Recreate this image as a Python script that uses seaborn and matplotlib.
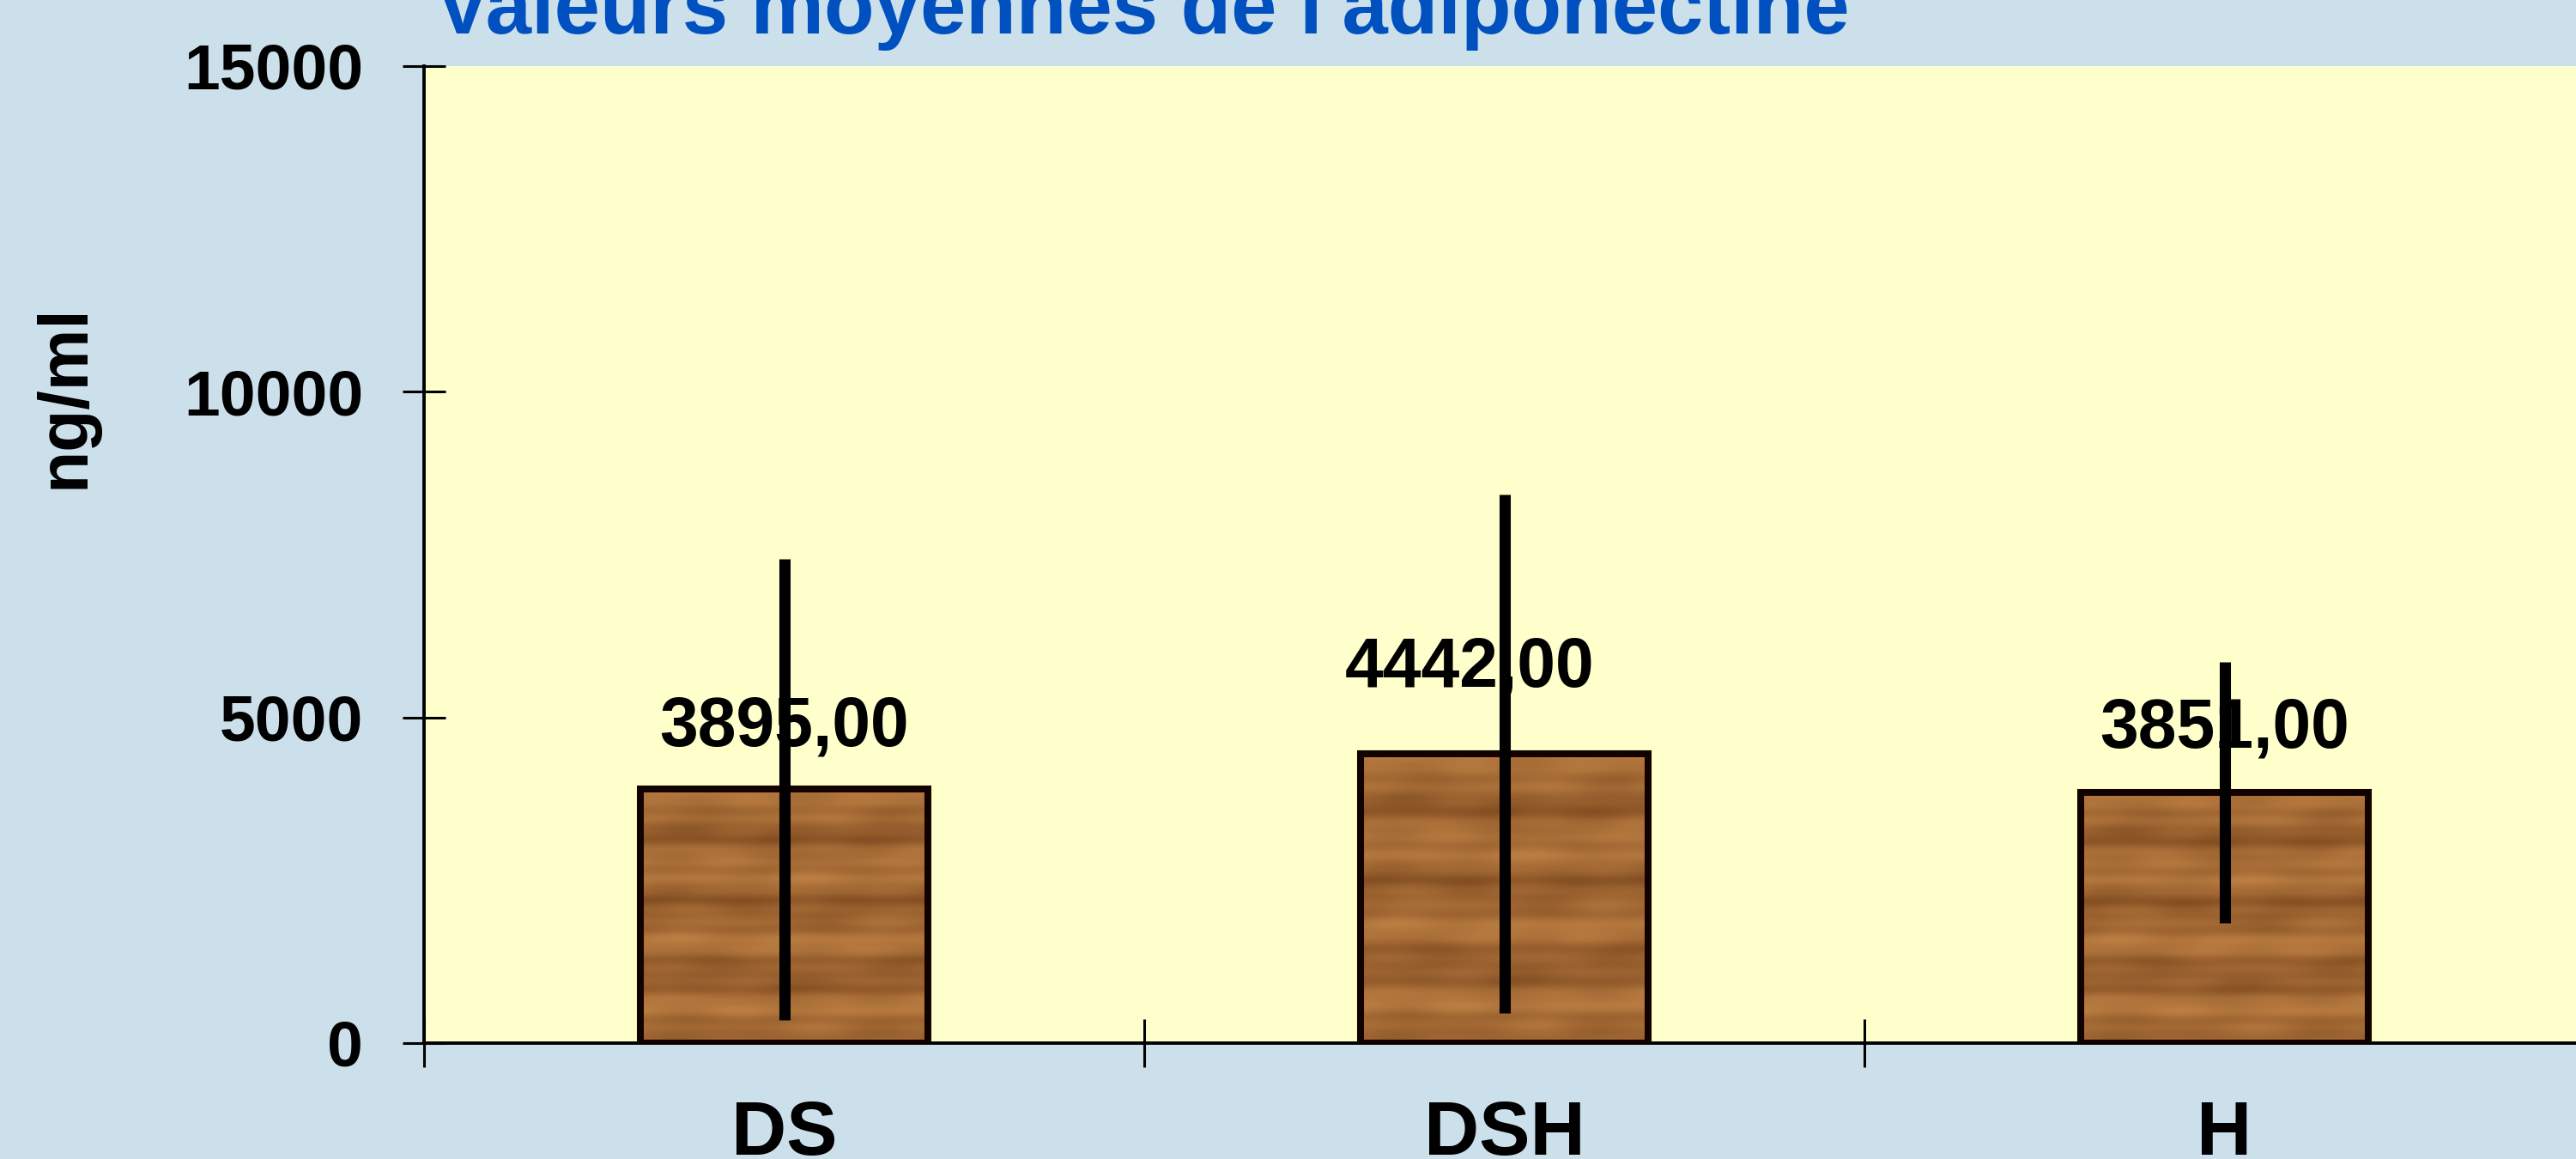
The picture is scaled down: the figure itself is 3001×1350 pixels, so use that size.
import numpy as np
import pandas as pd
import matplotlib
matplotlib.use("Agg")
import matplotlib.pyplot as plt
import seaborn as sns
from matplotlib.ticker import FixedLocator

# ---- data ----
categories = ["DS", "DSH", "H"]
means = [3895.0, 4442.0, 3851.0]
sd = [3540.0, 3975.0, 2000.0]
value_labels = ["3895,00", "4442,00", "3851,00"]
y_ticks = [0, 5000, 10000, 15000]
y_tick_labels = ["0", "5000", "10000", "15000"]
title = "Valeurs moyennes de l'adiponectine"
y_label = "ng/ml"

# label offsets (pixels) relative to bar top
label_dx = [0, -40, 0]
label_dy = [51, 79, 52]

sns.set_style("ticks")
plt.rcParams["font.family"] = ["Liberation Sans", "DejaVu Sans"]
plt.rcParams["text.color"] = "black"
plt.rcParams["axes.labelcolor"] = "black"
plt.rcParams["xtick.color"] = "black"
plt.rcParams["ytick.color"] = "black"

W, H = 3001, 1350
fig = plt.figure(figsize=(W / 100, H / 100), dpi=100, facecolor="#cce0ec")
ax = fig.add_axes([494 / W, 1 - 1215 / H, (3011 - 494) / W, (1215 - 77) / H])
ax.set_facecolor("#ffffcc")

df = pd.DataFrame({"cat": categories, "val": means})
sns.barplot(data=df, x="cat", y="val", ax=ax, width=0.4, color="#9c6434",
            edgecolor="#120200", linewidth=5.8, errorbar=None, zorder=3,
            saturation=1)

# wood-like texture (deterministic, decorative)
rows = np.linspace(0, 1, 220)[:, None]
cols = np.linspace(0, 1, 80)[None, :]
t = (0.62
     + 0.18 * np.sin(2 * np.pi * (rows * 3.6 + 0.1) + 0.35 * np.sin(2 * np.pi * cols * 1.3))
     + 0.10 * np.sin(2 * np.pi * rows * 8.3 + 1.1 + 0.5 * np.sin(2 * np.pi * cols * 2.1))
     + 0.05 * np.sin(2 * np.pi * rows * 17.0 + 2.0)
     + 0.04 * np.sin(2 * np.pi * cols * 3.0 + rows * 9))
# sharpen dark bands
t = np.clip(t, 0, 1) ** 0.8
dark = np.array([100, 52, 16]) / 255
light = np.array([190, 128, 68]) / 255
wood = dark[None, None, :] + (light - dark)[None, None, :] * t[:, :, None]

for p in ax.patches:
    x0, y0, w, h = p.get_x(), p.get_y(), p.get_width(), p.get_height()
    im = ax.imshow(wood, extent=(x0, x0 + w, y0, y0 + h), aspect="auto",
                   interpolation="bilinear", zorder=2.5)
    im.set_clip_path(p)
    p.set_facecolor("none")

centers = [p.get_x() + p.get_width() / 2 for p in ax.patches]
ax.errorbar(centers, means, yerr=sd, fmt="none", ecolor="black",
            elinewidth=9.4, capsize=0, zorder=6)

for cx, m, lab, dx, dy in zip(centers, means, value_labels, label_dx, label_dy):
    ax.annotate(lab, xy=(cx, m), xytext=(dx, dy), textcoords="offset pixels",
                ha="center", va="baseline", fontsize=58, fontweight="bold",
                color="black", zorder=5)

ax.set_xlim(-0.5, 2.5)
ax.set_ylim(0, 15000)
ax.set_yticks(y_ticks, labels=y_tick_labels, fontsize=54, fontweight="bold")
ax.set_xticks(range(len(categories)), labels=categories, fontsize=64, fontweight="bold")
ax.xaxis.set_minor_locator(FixedLocator([-0.5, 0.5, 1.5, 2.5]))

ax.tick_params(axis="y", which="major", direction="inout", length=36, width=2.2,
               pad=33, color="black", labelcolor="black")
ax.tick_params(axis="x", which="major", length=0, pad=47, labelcolor="black")
ax.tick_params(axis="x", which="minor", direction="inout", length=40, width=2.2,
               color="black")

for s in ["top", "right"]:
    ax.spines[s].set_visible(False)
for s in ["left", "bottom"]:
    ax.spines[s].set_linewidth(2.8)
    ax.spines[s].set_color("black")

ax.set_xlabel("")
ax.set_ylabel(y_label, fontsize=58, fontweight="bold", color="black")
ax.yaxis.set_label_coords(115 / W, 1 - 462 / H, transform=fig.transFigure)

fig.text(507 / W, 1 - 39 / H, title, ha="left", va="baseline", fontsize=69,
         fontweight="bold", color="#0050c0")

fig.savefig("out.png", dpi=100, facecolor=fig.get_facecolor())
